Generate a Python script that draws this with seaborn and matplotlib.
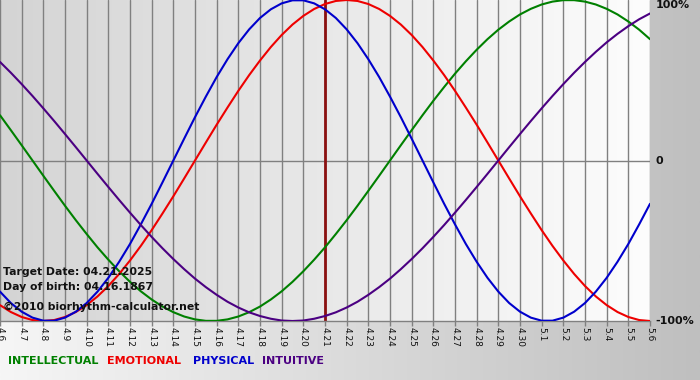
import numpy as np
import pandas as pd
import matplotlib
matplotlib.use("Agg")
import matplotlib.pyplot as plt
from matplotlib.colors import LinearSegmentedColormap
import seaborn as sns

# ---- data ----
days = ["4.6", "4.7", "4.8", "4.9", "4.10", "4.11", "4.12", "4.13", "4.14", "4.15",
        "4.16", "4.17", "4.18", "4.19", "4.20", "4.21", "4.22", "4.23", "4.24", "4.25",
        "4.26", "4.27", "4.28", "4.29", "4.30", "5.1", "5.2", "5.3", "5.4", "5.5", "5.6"]

# sample positions (in days from 4.6), read every half day
day_offset = [0, 0.5, 1, 1.5, 2, 2.5, 3, 3.5, 4, 4.5, 5, 5.5, 6, 6.5, 7, 7.5, 8, 8.5,
              9, 9.5, 10, 10.5, 11, 11.5, 12, 12.5, 13, 13.5, 14, 14.5, 15, 15.5, 16,
              16.5, 17, 17.5, 18, 18.5, 19, 19.5, 20, 20.5, 21, 21.5, 22, 22.5, 23, 23.5,
              24, 24.5, 25, 25.5, 26, 26.5, 27, 27.5, 28, 28.5, 29, 29.5, 30]

physical = [-0.817, -0.888, -0.942, -0.979, -0.998, -0.998, -0.979, -0.942, -0.888, -0.817,
            -0.731, -0.631, -0.520, -0.398, -0.270, -0.136, 0.0, 0.136, 0.270, 0.398,
            0.520, 0.631, 0.731, 0.817, 0.888, 0.942, 0.979, 0.998, 0.998, 0.979,
            0.942, 0.888, 0.817, 0.731, 0.631, 0.520, 0.398, 0.270, 0.136, 0.0,
            -0.136, -0.270, -0.398, -0.520, -0.631, -0.731, -0.817, -0.888, -0.942, -0.979,
            -0.998, -0.998, -0.979, -0.942, -0.888, -0.817, -0.731, -0.631, -0.520, -0.398,
            -0.270]

emotional = [-0.901, -0.944, -0.975, -0.994, -1.0, -0.994, -0.975, -0.944, -0.901, -0.847,
             -0.782, -0.707, -0.623, -0.532, -0.434, -0.330, -0.223, -0.112, 0.0, 0.112,
             0.223, 0.330, 0.434, 0.532, 0.623, 0.707, 0.782, 0.847, 0.901, 0.944,
             0.975, 0.994, 1.0, 0.994, 0.975, 0.944, 0.901, 0.847, 0.782, 0.707,
             0.623, 0.532, 0.434, 0.330, 0.223, 0.112, 0.0, -0.112, -0.223, -0.330,
             -0.434, -0.532, -0.623, -0.707, -0.782, -0.847, -0.901, -0.944, -0.975, -0.994,
             -1.0]

intellectual = [0.282, 0.189, 0.095, 0.0, -0.095, -0.189, -0.282, -0.372, -0.458, -0.541,
                -0.618, -0.690, -0.756, -0.815, -0.866, -0.910, -0.945, -0.972, -0.990, -0.999,
                -0.999, -0.990, -0.972, -0.945, -0.910, -0.866, -0.815, -0.756, -0.690, -0.618,
                -0.541, -0.458, -0.372, -0.282, -0.189, -0.095, 0.0, 0.095, 0.189, 0.282,
                0.372, 0.458, 0.541, 0.618, 0.690, 0.756, 0.815, 0.866, 0.910, 0.945,
                0.972, 0.990, 0.999, 0.999, 0.990, 0.972, 0.945, 0.910, 0.866, 0.815,
                0.756]

intuitive = [0.614, 0.547, 0.476, 0.402, 0.325, 0.246, 0.165, 0.083, 0.0, -0.083,
             -0.165, -0.246, -0.325, -0.402, -0.476, -0.547, -0.614, -0.677, -0.736, -0.789,
             -0.837, -0.880, -0.916, -0.946, -0.969, -0.986, -0.997, -1.0, -0.997, -0.986,
             -0.969, -0.946, -0.916, -0.880, -0.837, -0.789, -0.736, -0.677, -0.614, -0.547,
             -0.476, -0.402, -0.325, -0.246, -0.165, -0.083, 0.0, 0.083, 0.165, 0.246,
             0.325, 0.402, 0.476, 0.547, 0.614, 0.677, 0.736, 0.789, 0.837, 0.880,
             0.916]

series_names = ["INTELLECTUAL", "EMOTIONAL", "PHYSICAL", "INTUITIVE"]
series_colors = ["#008000", "#ee0000", "#0000cc", "#4b0082"]
target_day = "4.21"
y_labels = ["100%", "0", "-100%"]
info_lines = ["Target Date: 04.21.2025", "Day of birth: 04.16.1867",
              "\u00a92010 biorhythm-calculator.net"]

# ---- tidy table ----
df = pd.concat([
    pd.DataFrame({"day": day_offset, "value": vals, "series": name})
    for name, vals in zip(series_names, [intellectual, emotional, physical, intuitive])
], ignore_index=True)

sns.set_theme(style="white")
plt.rcParams['font.family'] = ['DejaVu Sans']

W, H = 700, 380
fig = plt.figure(figsize=(W / 100, H / 100), dpi=100)

# figure background gradient
grad = np.linspace(0, 1, 256)[None, :]
bg = fig.add_axes([0, 0, 1, 1], zorder=-10)
bg.imshow(grad, aspect="auto", extent=[0, 1, 0, 1],
          cmap=LinearSegmentedColormap.from_list("bgc", ["#f6f6f6", "#bfbfbf"]))
bg.set_axis_off()

plot_bottom = 321
plot_right = 650
n_days = len(days)
ax = fig.add_axes([0, 1 - plot_bottom / H, plot_right / W, plot_bottom / H])
ax.imshow(grad, aspect="auto", extent=[0, n_days - 1, -1, 1], zorder=0,
          cmap=LinearSegmentedColormap.from_list("pc", ["#d4d4d4", "#fdfdfd"]))

ax.grid(False)
ax.set_xticks(range(n_days))
ax.set_xticklabels(days)
ax.xaxis.grid(True, color="#808080", linewidth=1)
ax.set_axisbelow(True)
ax.axhline(0, color="#808080", linewidth=1, zorder=1)

sns.lineplot(data=df, x="day", y="value", hue="series", hue_order=series_names,
             palette=dict(zip(series_names, series_colors)), linewidth=1.5,
             legend=False, ax=ax, zorder=3)

ax.axvline(days.index(target_day), color="#8b1010", linewidth=2, zorder=2)

ax.set_xlim(0, n_days - 1)
ax.set_ylim(-1, 1)
ax.set_xlabel("")
ax.set_ylabel("")
ax.set_yticks([])
for s in ["top", "left", "right"]:
    ax.spines[s].set_visible(False)
ax.spines["bottom"].set_color("#808080")
ax.spines["bottom"].set_linewidth(1)
ax.tick_params(axis="x", bottom=True, length=3.6, width=1, color="#808080",
               direction="out", labelsize=6.5, pad=1, labelrotation=-90,
               labelcolor="#111111")

# right-side labels
ax.text(1.008, 1.0, y_labels[0], transform=ax.transAxes, ha="left", va="top",
        fontsize=8, fontweight="bold", color="#111111")
ax.text(1.008, 0.5, y_labels[1], transform=ax.transAxes, ha="left", va="center",
        fontsize=8, fontweight="bold", color="#111111")
ax.text(1.008, 0.0, y_labels[2], transform=ax.transAxes, ha="left", va="center",
        fontsize=8, fontweight="bold", color="#111111")

# info text
for txt, ypix in zip(info_lines, [272, 287, 307]):
    ax.text(3 / plot_right, (plot_bottom - ypix) / plot_bottom, txt,
            transform=ax.transAxes, ha="left", va="center", fontsize=7.8,
            fontweight="bold", color="#111111", zorder=5)

# colored legend row
for name, col, xpix in zip(series_names, series_colors, [8, 107, 193, 262]):
    fig.text(xpix / W, 1 - 361 / H, name, ha="left", va="center", fontsize=8,
             fontweight="bold", color=col)

fig.savefig("out.png", dpi=100)
